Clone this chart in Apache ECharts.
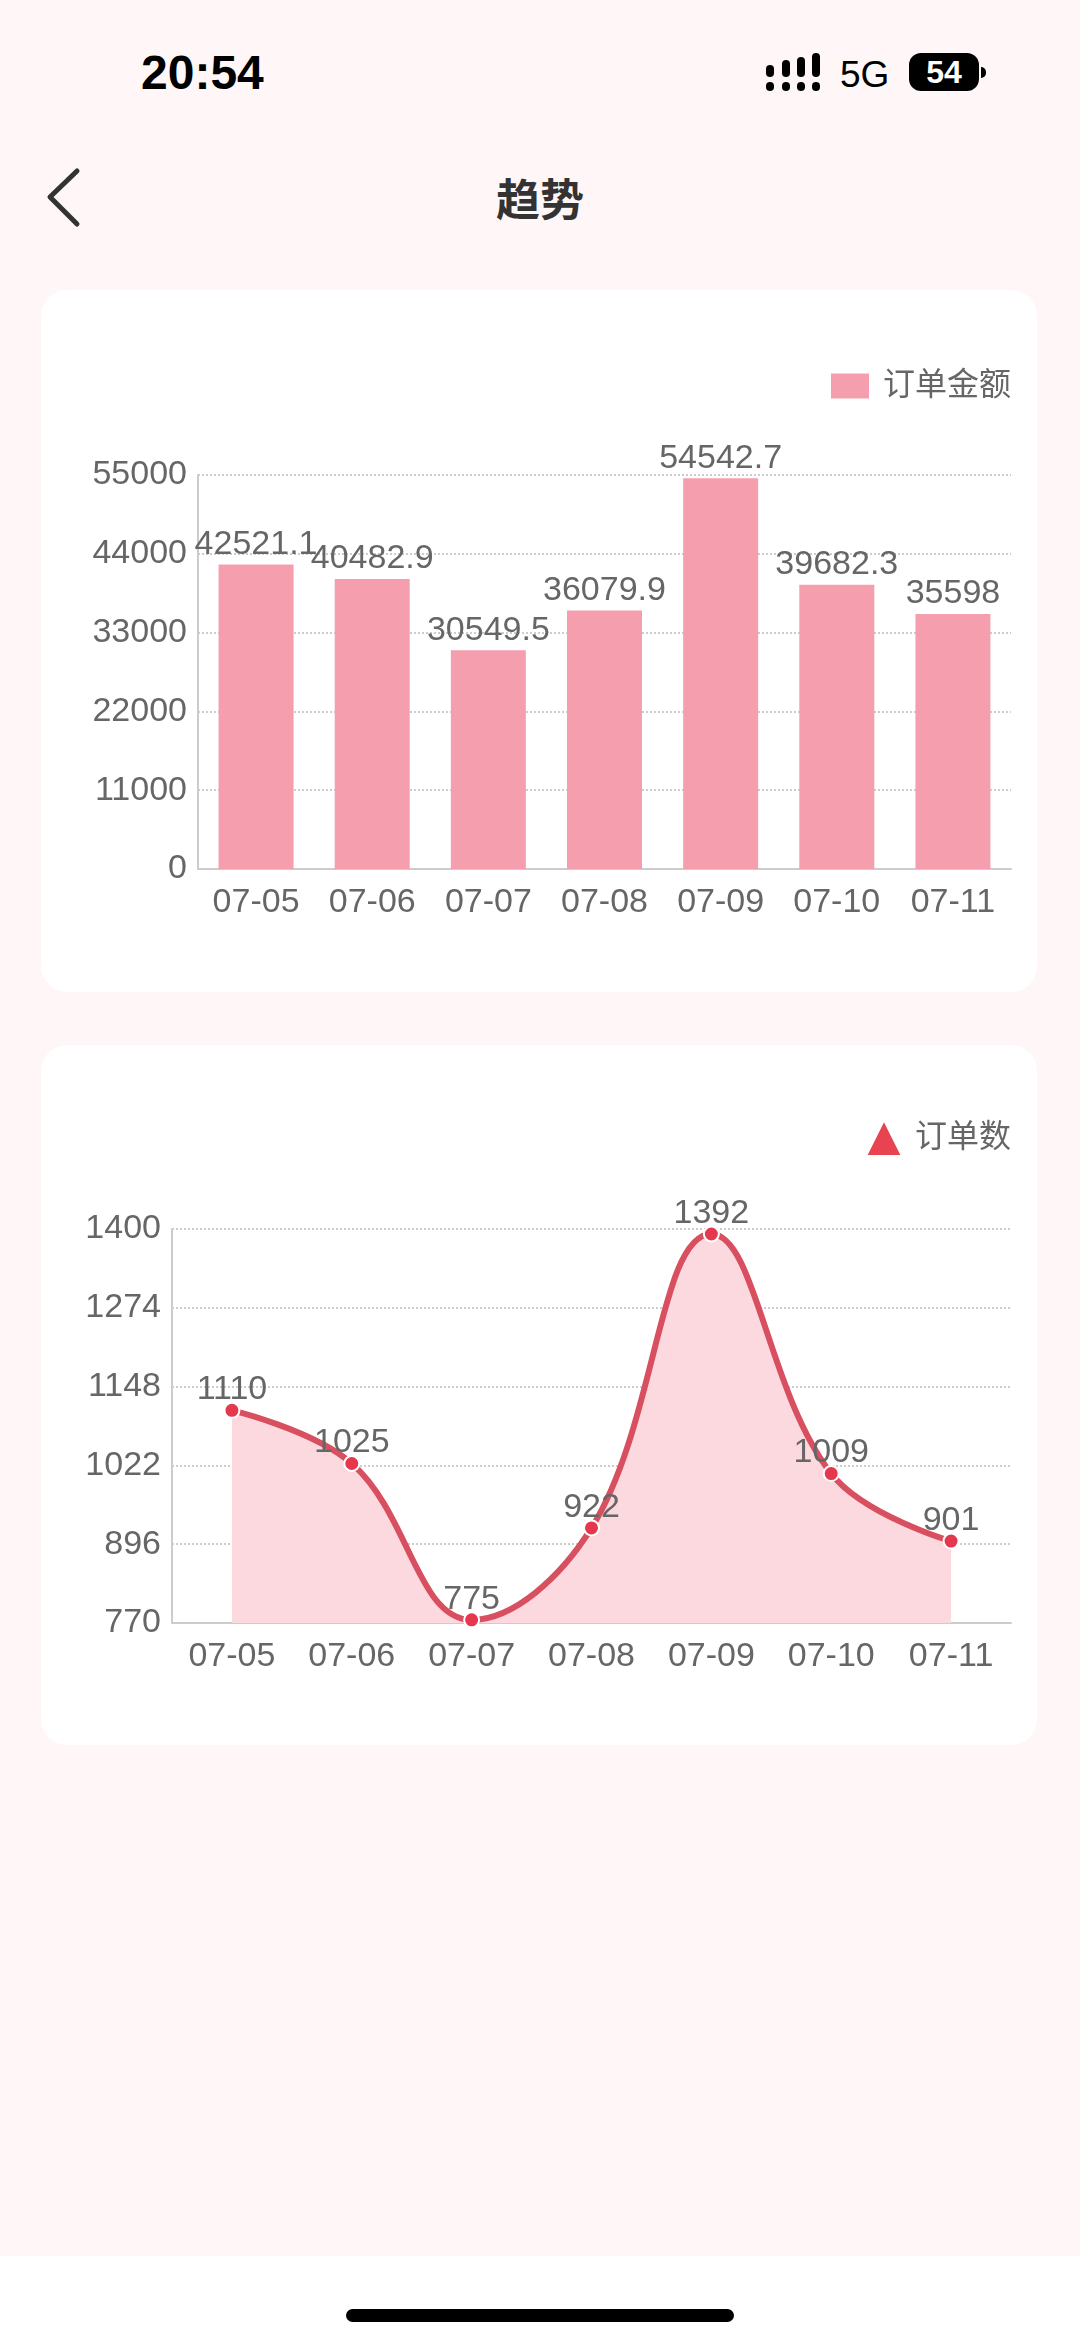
<!DOCTYPE html>
<html><head><meta charset="utf-8">
<script src="https://cdn.jsdelivr.net/npm/echarts@6/dist/echarts.min.js"></script>
<style>
html,body{margin:0;padding:0;width:1080px;height:2342px;background:#fff6f7;overflow:hidden;font-family:"Liberation Sans","Noto Sans CJK SC",sans-serif}
.abs{position:absolute}
.card{position:absolute;background:#fff;border-radius:26px;left:41px;width:996px}
.sig{position:absolute;background:#000;border-radius:4px;width:8px}
</style></head><body>
<div class="abs" style="left:0;top:2256px;width:1080px;height:86px;background:#fff"></div>
<div class="abs" style="left:346px;top:2309px;width:388px;height:13px;border-radius:7px;background:#000"></div>
<div class="abs" style="left:141px;top:46px;font-size:48px;font-weight:700;line-height:54px;color:#000">20:54</div>
<div class="sig" style="left:766px;top:82px;height:9px"></div><div class="sig" style="left:782px;top:82px;height:9px"></div><div class="sig" style="left:797px;top:82px;height:9px"></div><div class="sig" style="left:812px;top:82px;height:9px"></div>
<div class="sig" style="left:766px;top:65px;height:12px"></div><div class="sig" style="left:782px;top:60px;height:17px"></div><div class="sig" style="left:797px;top:57px;height:20px"></div><div class="sig" style="left:812px;top:53px;height:24px"></div>
<div class="abs" style="left:840px;top:53px;font-size:37px;line-height:44px;color:#000">5G</div>
<div class="abs" style="left:909px;top:53px;width:70px;height:38px;border-radius:12px;background:#000;color:#fff;font-size:32px;font-weight:700;line-height:38px;text-align:center">54</div>
<div class="abs" style="left:981px;top:67px;width:5px;height:11px;border-radius:0 5px 5px 0;background:#000"></div>
<svg class="abs" style="left:40px;top:160px" width="50" height="75"><polyline points="37,11 10,37 37,64" fill="none" stroke="#333" stroke-width="5" stroke-linecap="round" stroke-linejoin="round"/></svg>
<div class="abs" style="left:0;width:1080px;top:170px;text-align:center;font-family:'Noto Sans CJK SC';font-size:44px;font-weight:700;line-height:54px;color:#333">趋势</div>
<div class="card" style="top:290px;height:702px"></div>
<div class="card" style="top:1045px;height:700px"></div>
<div id="c" class="abs" style="left:0;top:0;width:1080px;height:2342px"></div>
<script>
const categories = ['07-05','07-06','07-07','07-08','07-09','07-10','07-11'];
const amountValues = [42521.1,40482.9,30549.5,36079.9,54542.7,39682.3,35598];
const orderValues = [1110,1025,775,922,1392,1009,901];
const amountName = '订单金额';
const orderName = '订单数';
const font = '"Liberation Sans","Noto Sans CJK SC",sans-serif';
const gray = '#666';
function xAxis(i){return {type:'category',gridIndex:i,data:categories,
  axisLine:{lineStyle:{color:'#ccc',width:2}},axisTick:{show:false},
  axisLabel:{color:gray,fontSize:34,fontFamily:font,margin:17,interval:0}};}
function yAxis(i,min,max,step){return {type:'value',gridIndex:i,min:min,max:max,interval:step,
  axisLine:{show:true,lineStyle:{color:'#ccc',width:2}},axisTick:{show:false},
  axisLabel:{color:gray,fontSize:34,fontFamily:font,margin:11,formatter:v=>String(v)},
  splitLine:{show:true,lineStyle:{color:'#ccc',type:'dotted',width:2}}};}
const chart = echarts.init(document.getElementById('c'),null,{renderer:'canvas'});
chart.setOption({
  backgroundColor:'transparent',animation:false,
  grid:[{left:198,right:69,top:475,height:394},{left:172,right:69,top:1229,height:394}],
  legend:[
    {data:[{name:amountName}],right:64,top:365,itemWidth:38,itemHeight:25,icon:'rect',
     textStyle:{color:gray,fontSize:32,fontFamily:font,padding:[0,0,0,9]}},
    {data:[{name:orderName}],right:64,top:1114,itemWidth:36,itemHeight:36,icon:'triangle',
     itemStyle:{color:'#e84350'},
     textStyle:{color:gray,fontSize:32,fontFamily:font,padding:[0,0,0,8]}}
  ],
  xAxis:[xAxis(0),xAxis(1)],
  yAxis:[yAxis(0,0,55000,11000),yAxis(1,770,1400,126)],
  series:[
    {name:amountName,type:'bar',xAxisIndex:0,yAxisIndex:0,data:amountValues,barWidth:75,
     itemStyle:{color:'#f59fae'},
     label:{show:true,position:'top',distance:3,color:gray,fontSize:34,fontFamily:font}},
    {name:orderName,type:'line',xAxisIndex:1,yAxisIndex:1,data:orderValues,smooth:0.4,
     symbol:'circle',symbolSize:15,
     itemStyle:{color:'#e5384e',borderColor:'#fff',borderWidth:2},
     lineStyle:{color:'#d84f60',width:6},
     areaStyle:{color:'#fcd9de',opacity:1},
     label:{show:true,position:'top',distance:3,offset:[0,8],color:gray,fontSize:34,fontFamily:font}}
  ]
});
</script></body></html>
